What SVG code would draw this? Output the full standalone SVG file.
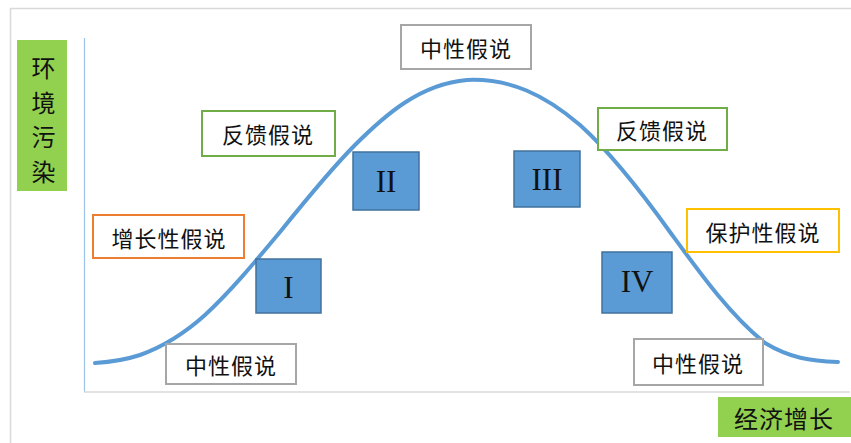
<svg xmlns="http://www.w3.org/2000/svg" width="851" height="443" viewBox="0 0 851 443">
<defs>
<style>
.lbl{fill:#fff;stroke-width:2}
.cn{font-family:"Noto Sans CJK SC","Liberation Sans",sans-serif;font-size:22px;fill:#111;text-anchor:middle;dominant-baseline:central;letter-spacing:1px}
.rn{fill:#5B9BD5;stroke:#41719C;stroke-width:1.5}
.rt{font-family:"Liberation Serif","DejaVu Serif",serif;font-size:31px;fill:#111;text-anchor:middle;dominant-baseline:central}
.neutral{stroke:#A6A6A6}
.feedback{stroke:#70AD47}
</style>
</defs>
<rect width="851" height="443" fill="#fff"/>
<path d="M10.5 443 V8.5 H851" fill="none" stroke="#D9D9D9" stroke-width="1.5"/>
<g id="axes">
<line x1="84.5" y1="38" x2="84.5" y2="392" stroke="#9DC3E6" stroke-width="1.2"/>
<line x1="84" y1="392" x2="850" y2="392" stroke="#D9D9D9" stroke-width="1.5"/>
</g>
<g id="y-label">
<rect x="17" y="40" width="50" height="151" fill="#92D050"/>
<text class="cn" x="44" y="66" style="font-size:24px">环</text>
<text class="cn" x="44" y="101" style="font-size:24px">境</text>
<text class="cn" x="44" y="135" style="font-size:24px">污</text>
<text class="cn" x="44" y="170" style="font-size:24px">染</text>
</g>
<g id="x-label">
<rect x="718" y="397" width="133" height="40" fill="#92D050"/>
<text class="cn" x="784" y="417" style="font-size:24px">经济增长</text>
</g>
<g id="connectors">
<path d="M95 363 C110 362 125 360 140 355 C165 346 185 333 205 315 C230 292 255 262 280 232 C305 201 330 170 355 145 C385 115 420 84 467 80 C510 78 545 95 580 125 C610 152 640 190 670 232 C700 273 730 315 765 343 C790 358 810 361 838 362" fill="none" stroke="#5B9BD5" stroke-width="4" stroke-linecap="round"/>
</g>
<g id="neutral-top">
<rect class="lbl neutral" x="401" y="25" width="130" height="44"/>
<text class="cn" x="466" y="47">中性假说</text>
</g>
<g id="feedback-left">
<rect class="lbl feedback" x="202" y="111" width="133" height="45"/>
<text class="cn" x="268" y="133">反馈假说</text>
</g>
<g id="feedback-right">
<rect class="lbl feedback" x="598" y="108" width="129" height="42"/>
<text class="cn" x="662" y="129">反馈假说</text>
</g>
<g id="growth">
<rect class="lbl" stroke="#ED7D31" x="93" y="215" width="151" height="43"/>
<text class="cn" x="169" y="237">增长性假说</text>
</g>
<g id="protect">
<rect class="lbl" stroke="#FFC000" x="687" y="209" width="152" height="43"/>
<text class="cn" x="763" y="231">保护性假说</text>
</g>
<g id="neutral-left">
<rect class="lbl neutral" x="166" y="344" width="130" height="40"/>
<text class="cn" x="231" y="364">中性假说</text>
</g>
<g id="neutral-right">
<rect class="lbl neutral" x="634" y="339" width="129" height="46"/>
<text class="cn" x="698" y="362">中性假说</text>
</g>
<g id="stage-I">
<rect class="rn" x="256" y="259" width="65" height="54"/>
<text class="rt" x="288.5" y="287">I</text>
</g>
<g id="stage-II">
<rect class="rn" x="353" y="152" width="66" height="58"/>
<text class="rt" x="386" y="181">II</text>
</g>
<g id="stage-III">
<rect class="rn" x="514" y="151" width="66" height="56"/>
<text class="rt" x="547" y="179">III</text>
</g>
<g id="stage-IV">
<rect class="rn" x="602" y="252" width="70" height="61"/>
<text class="rt" x="637" y="281">IV</text>
</g>
</svg>
